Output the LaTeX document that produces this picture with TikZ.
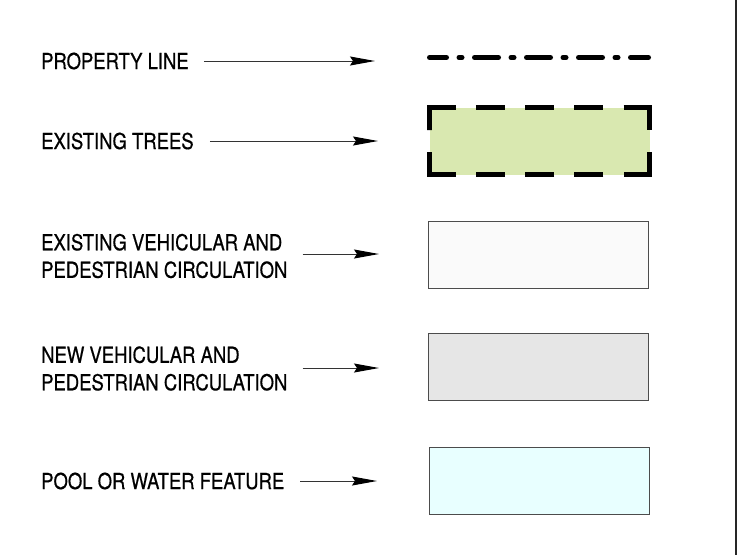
\documentclass[tikz,border=0pt]{standalone}
\usepackage{fontspec}
\setmainfont[FakeStretch=0.84,FakeBold=0.6]{TeX Gyre Heros}
\usetikzlibrary{arrows.meta}
\definecolor{treegreen}{RGB}{217,232,176}
\definecolor{oldpave}{RGB}{250,250,250}
\definecolor{newpave}{RGB}{230,230,230}
\definecolor{poolblue}{RGB}{232,255,255}

\begin{document}
\begin{tikzpicture}[x=1pt,y=-1pt,
  lbl/.style={anchor=west,inner sep=0pt,font=\fontsize{22}{27.5}\selectfont,align=left},
  pointer/.style={black!80,line width=1pt,-{Stealth[length=25pt,width=9pt,inset=3pt,black]}},
  swatch/.style={draw=black!70,line width=1.5pt,minimum width=220pt,minimum height=67pt,inner sep=0pt}]
\useasboundingbox (0,0) rectangle (739,555);

% Property line
\node[lbl] (propline) at (41,61) {PROPERTY LINE};
\coordinate (propline tip) at (375,61);
\draw[pointer] ([xshift=15pt]propline.east) -- (propline tip);
\draw[line width=5pt,line cap=round,dash pattern=on 24pt off 12.5pt on 3pt off 12.5pt,dash phase=7pt] (429.5,57.5) -- (648.5,57.5);

% Existing trees
\node[lbl] (trees) at (41,141) {EXISTING TREES};
\coordinate (trees tip) at (378,141);
\draw[pointer] ([xshift=16pt]trees.east) -- (trees tip);
\fill[treegreen] (429.5,107.5) rectangle (649.5,174.5);
\draw[line width=5pt,dash pattern=on 48.5pt off 20.25pt on 29pt off 20.25pt on 29pt off 20.25pt on 29pt off 20.25pt on 48.5pt off 22pt on 48.5pt off 20.25pt on 29pt off 20.25pt on 29pt off 20.25pt on 29pt off 20.25pt on 48.5pt off 22pt]
  (429.5,130) -- (429.5,107.5) -- (649.5,107.5) -- (649.5,174.5) -- (429.5,174.5) -- cycle;

% Existing circulation
\node[lbl] (oldcirc) at (41,256) {EXISTING VEHICULAR AND\\PEDESTRIAN CIRCULATION};
\coordinate (oldcirc tip) at (379,254);
\draw[pointer] ([xshift=15pt]oldcirc.east |- oldcirc tip) -- (oldcirc tip);
\node[swatch,fill=oldpave] (oldcirc box) at (538.5,255) {};

% New circulation
\node[lbl] (newcirc) at (41,368.5) {NEW VEHICULAR AND\\PEDESTRIAN CIRCULATION};
\coordinate (newcirc tip) at (379,368);
\draw[pointer] ([xshift=15pt]newcirc.east |- newcirc tip) -- (newcirc tip);
\node[swatch,fill=newpave] (newcirc box) at (538.5,367) {};

% Pool
\node[lbl] (pool) at (41,481) {POOL OR WATER FEATURE};
\coordinate (pool tip) at (377,481);
\draw[pointer] ([xshift=16pt]pool.east) -- (pool tip);
\node[swatch,fill=poolblue] (pool box) at (539.5,481) {};

% Sheet edge
\draw[line width=2pt,black!85] (736,0) -- (736,555);
\end{tikzpicture}
\end{document}
